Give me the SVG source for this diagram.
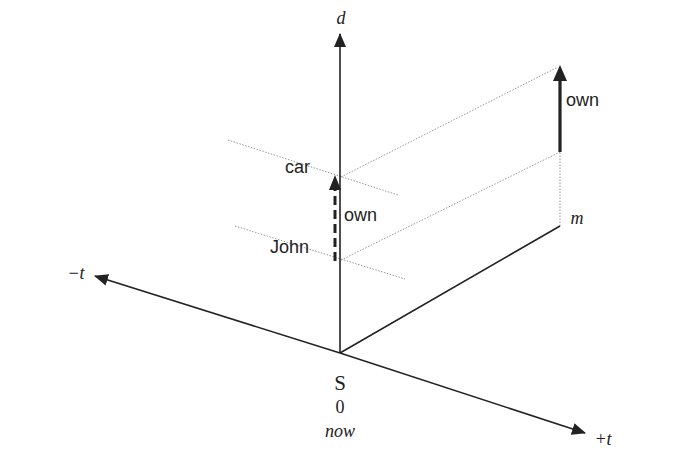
<svg xmlns="http://www.w3.org/2000/svg" width="685" height="467" viewBox="0 0 685 467">
<style>
.ax{stroke:#222;stroke-width:1.6;fill:none}
.dot{stroke:#999;stroke-width:1;stroke-dasharray:1.5 1.5;fill:none}
.sans{font-family:"Liberation Sans",Arial,sans-serif;font-size:18px;fill:#222}
.serif{font-family:"Liberation Serif","Times New Roman",serif;font-size:18px;fill:#222}
.it{font-style:italic}
.big{font-size:21px}
</style>
<defs>
<marker id="ah2" markerWidth="14" markerHeight="12" refX="13" refY="6" orient="auto" markerUnits="userSpaceOnUse" viewBox="0 0 14 12">
<path d="M0,0 L14,6 L0,12 Z" fill="#222"/>
</marker>
</defs>
<g id="connectors">
<line class="dot" x1="228" y1="140" x2="398" y2="195"/>
<line class="dot" x1="235" y1="226" x2="405" y2="279"/>
<line class="dot" x1="341" y1="177" x2="558" y2="67"/>
<line class="dot" x1="341" y1="260" x2="560" y2="152"/>
<line class="dot" x1="560" y1="226" x2="560" y2="152"/>
<line class="ax" x1="340" y1="353" x2="340" y2="34" marker-end="url(#ah2)"/>
<line class="ax" x1="340" y1="353" x2="95" y2="276" marker-end="url(#ah2)"/>
<line class="ax" x1="340" y1="353" x2="585" y2="433" marker-end="url(#ah2)"/>
<line class="ax" x1="340" y1="353" x2="560" y2="226"/>
<line x1="335" y1="261" x2="335" y2="186" stroke="#222" stroke-width="3" stroke-dasharray="9 5"/>
<path d="M329,190 L335,175 L341,190 Z" fill="#222"/>
<line x1="560" y1="152" x2="560" y2="80" stroke="#222" stroke-width="3.2"/>
<path d="M553,81 L560,65 L567,81 Z" fill="#222"/>
</g>
<g id="labels">
<text class="serif it" x="341" y="24" text-anchor="middle">d</text>
<text class="serif it" x="76" y="279" text-anchor="middle">−t</text>
<text class="serif it" x="603" y="445" text-anchor="middle">+t</text>
<text class="serif it" x="577" y="224" text-anchor="middle">m</text>
<text class="serif big" x="340" y="390" text-anchor="middle">S</text>
<text class="serif" x="340" y="413" text-anchor="middle">0</text>
<text class="serif it" x="340" y="437" text-anchor="middle">now</text>
<text class="sans" x="285" y="173">car</text>
<text class="sans" x="270" y="253">John</text>
<text class="sans" x="344" y="221">own</text>
<text class="sans" x="566" y="106">own</text>
</g>
</svg>
